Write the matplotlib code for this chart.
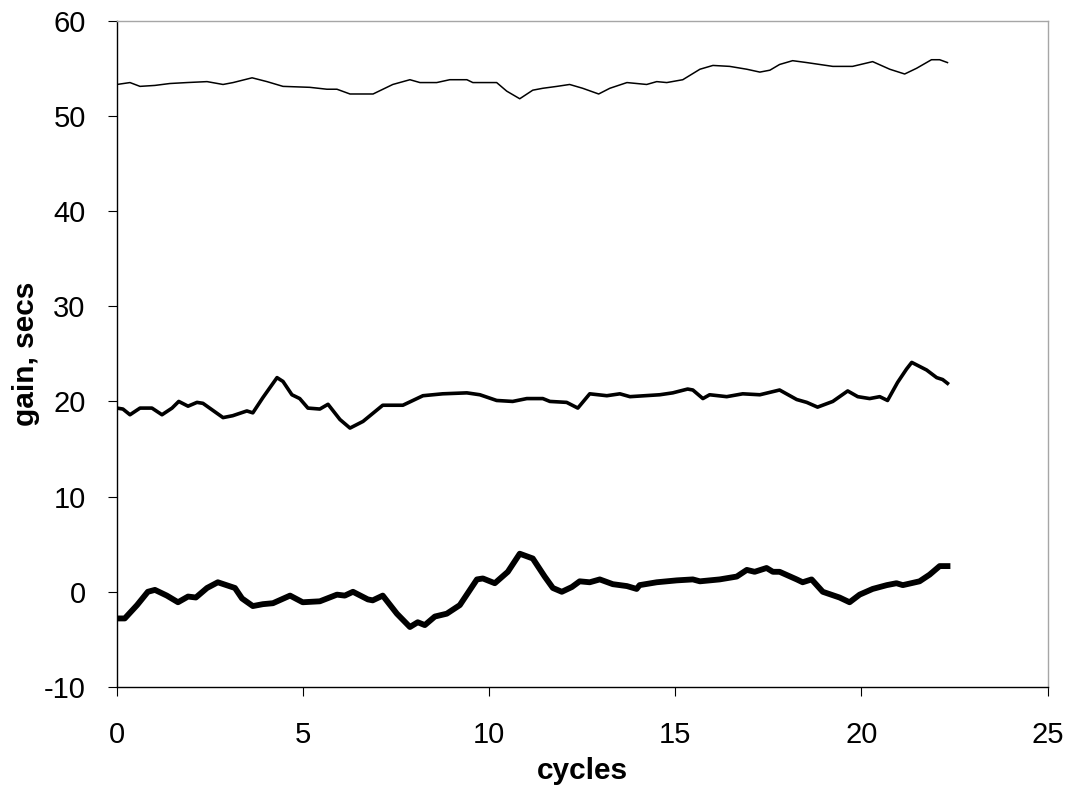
import numpy as np
from matplotlib import pyplot as plt

plt.rcParams["font.family"] = ["Liberation Sans", "DejaVu Sans"]
plt.rcParams["axes.unicode_minus"] = False

# top series (thin)
top_x = [0, 0.35, 0.62, 1.02, 1.42, 1.88, 2.42, 2.85, 3.12, 3.63, 4.03, 4.46, 5.18, 5.64, 5.91,
         6.26, 6.88, 7.41, 7.87, 8.14, 8.59, 8.94, 9.40, 9.56, 10.20, 10.47, 10.82, 11.17, 11.44,
         11.82, 12.16, 12.51, 12.94, 13.24, 13.70, 14.23, 14.50, 14.77, 15.20, 15.66, 16.01,
         16.46, 16.92, 17.27, 17.54, 17.80, 18.15, 18.53, 18.88, 19.23, 19.76, 20.30, 20.76,
         21.16, 21.48, 21.88, 22.10, 22.31]
top_y = [53.3, 53.5, 53.1, 53.2, 53.4, 53.5, 53.6, 53.3, 53.5, 54.0, 53.6, 53.1, 53.0, 52.8, 52.8,
         52.3, 52.3, 53.3, 53.8, 53.5, 53.5, 53.8, 53.8, 53.5, 53.5, 52.6, 51.8, 52.7, 52.9,
         53.1, 53.3, 52.9, 52.3, 52.9, 53.5, 53.3, 53.6, 53.5, 53.8, 54.9, 55.3,
         55.2, 54.9, 54.6, 54.8, 55.4, 55.8, 55.6, 55.4, 55.2, 55.2, 55.7, 54.9,
         54.4, 55.0, 55.9, 55.9, 55.6]

# middle series
mid_x = [0, 0.16, 0.35, 0.62, 0.94, 1.21, 1.48, 1.66, 1.91, 2.15, 2.31, 2.85, 3.11, 3.49, 3.65,
         3.92, 4.30, 4.46, 4.70, 4.91, 5.13, 5.45, 5.67, 5.99, 6.26, 6.61, 7.14, 7.68, 8.22,
         8.75, 9.40, 9.75, 10.20, 10.63, 11.01, 11.44, 11.63, 12.08, 12.38, 12.70, 13.16,
         13.51, 13.78, 14.58, 14.93, 15.33, 15.47, 15.74, 15.92, 16.38, 16.81, 17.27, 17.80,
         18.26, 18.53, 18.82, 19.23, 19.63, 19.90, 20.22, 20.49, 20.70, 20.97, 21.21, 21.35,
         21.75, 22.02, 22.18, 22.31]
mid_y = [19.3, 19.2, 18.6, 19.3, 19.3, 18.6, 19.3, 20.0, 19.5, 19.9, 19.8, 18.3, 18.5, 19.0, 18.8,
         20.4, 22.5, 22.1, 20.7, 20.3, 19.3, 19.2, 19.7, 18.1, 17.2, 17.9, 19.6, 19.6, 20.6,
         20.8, 20.9, 20.7, 20.1, 20.0, 20.3, 20.3, 20.0, 19.9, 19.3, 20.8, 20.6,
         20.8, 20.5, 20.7, 20.9, 21.3, 21.2, 20.3, 20.7, 20.5, 20.8, 20.7, 21.2,
         20.2, 19.9, 19.4, 20.0, 21.1, 20.5, 20.3, 20.5, 20.1, 22.0, 23.4, 24.1,
         23.3, 22.5, 22.3, 21.9]

# bottom series (thick)
bot_x = [0, 0.21, 0.54, 0.83, 1.02, 1.34, 1.64, 1.91, 2.12, 2.42, 2.71, 3.17, 3.36, 3.65, 3.92,
         4.19, 4.65, 4.99, 5.45, 5.91, 6.12, 6.34, 6.74, 6.87, 7.14, 7.52, 7.87, 8.08, 8.27,
         8.54, 8.86, 9.21, 9.67, 9.83, 10.15, 10.50, 10.82, 11.17, 11.49, 11.71, 11.95, 12.22,
         12.43, 12.70, 12.97, 13.32, 13.70, 13.96, 14.04, 14.50, 15.04, 15.47, 15.66, 16.19,
         16.65, 16.92, 17.13, 17.45, 17.62, 17.80, 18.26, 18.42, 18.66, 18.96, 19.41, 19.68,
         19.95, 20.30, 20.68, 20.94, 21.11, 21.56, 21.83, 22.10, 22.31]
bot_y = [-2.8, -2.8, -1.4, 0.0, 0.2, -0.4, -1.1, -0.5, -0.6, 0.4, 1.0, 0.4, -0.7, -1.5, -1.3,
         -1.2, -0.4, -1.1, -1.0, -0.3, -0.4, 0.0, -0.8, -0.9, -0.4, -2.3, -3.7, -3.2, -3.5,
         -2.6, -2.3, -1.4, 1.3, 1.4, 0.9, 2.1, 4.0, 3.5, 1.6, 0.4, 0.0, 0.5,
         1.1, 1.0, 1.3, 0.8, 0.6, 0.3, 0.7, 1.0, 1.2, 1.3, 1.1, 1.3,
         1.6, 2.3, 2.1, 2.5, 2.1, 2.1, 1.3, 1.0, 1.3, 0.0, -0.6, -1.1,
         -0.3, 0.3, 0.7, 0.9, 0.7, 1.1, 1.8, 2.7, 2.7]

fig = plt.figure(figsize=(10.69, 7.87), dpi=100)
ax = fig.add_axes([0.1094, 0.1271, 0.8706, 0.8466])

ax.plot(top_x, top_y, color="black", linewidth=1.1)
ax.plot(mid_x, mid_y, color="black", linewidth=2.6)
ax.plot(bot_x, bot_y, color="black", linewidth=4.2)

ax.set_xlim(0, 25)
ax.set_ylim(-10, 60)
ax.set_xticks([0, 5, 10, 15, 20, 25])
ax.set_yticks([-10, 0, 10, 20, 30, 40, 50, 60])

# plot area border: light grey on top/right
for side in ["top", "right"]:
    ax.spines[side].set_color("#a6a6a6")
    ax.spines[side].set_linewidth(1.0)
for side in ["left", "bottom"]:
    ax.spines[side].set_color("black")
    ax.spines[side].set_linewidth(1.0)

ax.tick_params(direction="out", length=6.5, width=0.8, labelsize=21)
ax.tick_params(axis="x", pad=18)
ax.tick_params(axis="y", pad=16)
ax.set_xlabel("cycles", fontsize=21.5, fontweight="bold", labelpad=6)
ax.set_ylabel("gain, secs", fontsize=21.5, fontweight="bold", labelpad=3)

plt.savefig("out.png", dpi=100)
